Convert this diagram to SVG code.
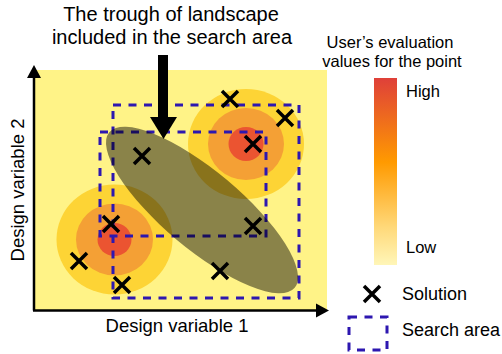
<svg xmlns="http://www.w3.org/2000/svg" width="502" height="354" viewBox="0 0 502 354">
  <style>
    text { font-family: "Liberation Sans", Arial, Helvetica, sans-serif; fill: #000; }
    .title { font-size: 20px; text-anchor: middle; }
    .axis-label { font-size: 18.5px; text-anchor: middle; }
    .legend-title { font-size: 16.5px; text-anchor: middle; }
    .scale-label { font-size: 16.5px; }
    .legend-label { font-size: 18px; }
    .area { fill: none; stroke: #2D17B0; stroke-width: 3; stroke-dasharray: 8 7.5; }
    .cross { stroke: #000; stroke-width: 3.5; fill: none; }
    .ring-outer { fill: #FDD435; }
    .ring-mid { fill: #F4A035; }
    .ring-core { fill: #EB5431; }
  </style>
  <defs>
    <linearGradient id="evalScale" x1="0" y1="0" x2="0" y2="1">
      <stop offset="0" stop-color="#DF4039"/>
      <stop offset="0.45" stop-color="#FF9A00"/>
      <stop offset="0.8" stop-color="#FFD97A"/>
      <stop offset="1" stop-color="#FFF6B8"/>
    </linearGradient>
    <path id="cross" d="M-8,-8 L8,8 M8,-8 L-8,8"/>
  </defs>

  <!-- title over the plot -->
  <g id="title">
    <text class="title" x="171" y="21">The trough of landscape</text>
    <text class="title" x="172" y="44">included in the search area</text>
  </g>

  <!-- design space background -->
  <rect id="plot-area" x="34" y="70" width="293" height="240" fill="#FFF387"/>

  <!-- peaks of the evaluation landscape -->
  <g id="peak-bottom-left">
    <ellipse class="ring-outer" cx="114.5" cy="239.5" rx="58" ry="55"/>
    <ellipse class="ring-mid" cx="114.5" cy="239.5" rx="38.5" ry="36"/>
    <ellipse class="ring-core" cx="114.5" cy="239.5" rx="17" ry="16.5"/>
  </g>
  <g id="peak-top-right">
    <ellipse class="ring-outer" cx="246" cy="144" rx="58" ry="55"/>
    <ellipse class="ring-mid" cx="246" cy="144" rx="38" ry="36"/>
    <ellipse class="ring-core" cx="246" cy="144" rx="17.5" ry="17"/>
  </g>

  <!-- search areas -->
  <g id="search-areas">
    <rect id="search-area-large" class="area" x="113" y="105" width="186" height="193"/>
    <rect id="search-area-small" class="area" x="100" y="132" width="166" height="104"/>
  </g>

  <!-- trough of the landscape -->
  <ellipse id="trough" cx="202" cy="210" rx="121" ry="39" transform="rotate(40 202 210)" fill="#000" fill-opacity="0.46"/>

  <!-- solutions -->
  <g id="solutions" class="cross">
    <use href="#cross" x="230" y="99"/>
    <use href="#cross" x="285" y="118"/>
    <use href="#cross" x="253" y="144"/>
    <use href="#cross" x="142" y="156"/>
    <use href="#cross" x="111" y="224"/>
    <use href="#cross" x="253" y="226"/>
    <use href="#cross" x="79" y="261"/>
    <use href="#cross" x="220" y="271"/>
    <use href="#cross" x="122" y="285"/>
  </g>

  <!-- axes -->
  <g id="axes">
    <line x1="34" y1="310.5" x2="34" y2="74" stroke="#000" stroke-width="2.5"/>
    <polygon points="34,65 27,78 41,78" fill="#000"/>
    <line x1="33" y1="310.5" x2="318" y2="310.5" stroke="#000" stroke-width="2.5"/>
    <polygon points="329,310.5 316,303.5 316,317.5" fill="#000"/>
    <text class="axis-label" x="177" y="332">Design variable 1</text>
    <text class="axis-label" x="24" y="190" transform="rotate(-90 24 190)">Design variable 2</text>
  </g>

  <!-- pointer to the trough -->
  <g id="pointer">
    <rect x="158" y="55" width="10" height="63" fill="#000"/>
    <polygon points="150,117 177,117 163.5,139" fill="#000"/>
  </g>

  <!-- colour scale legend -->
  <g id="scale-legend">
    <text class="legend-title" x="390" y="48">User’s evaluation</text>
    <text class="legend-title" x="392" y="67">values for the point</text>
    <rect x="374" y="78" width="23" height="187" fill="url(#evalScale)"/>
    <text class="scale-label" x="406" y="97">High</text>
    <text class="scale-label" x="406" y="253">Low</text>
  </g>

  <!-- symbol legend -->
  <g id="legend-solution">
    <use href="#cross" x="372" y="294" class="cross"/>
    <text class="legend-label" x="402" y="300">Solution</text>
  </g>
  <g id="legend-search-area">
    <rect class="area" x="349" y="317" width="38" height="33"/>
    <text class="legend-label" x="402" y="336">Search area</text>
  </g>
</svg>
